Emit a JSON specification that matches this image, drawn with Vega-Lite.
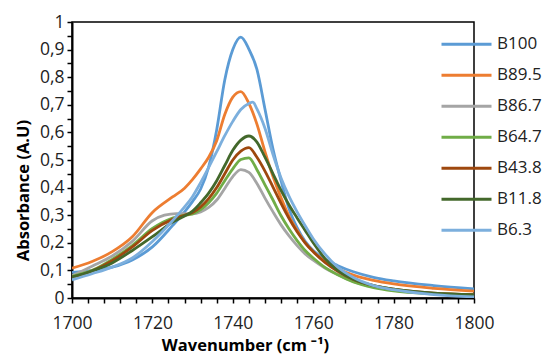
{
  "$schema": "https://vega.github.io/schema/vega-lite/v6.json",
  "width": 402,
  "height": 276,
  "autosize": "none",
  "padding": {"left": 72, "top": 22, "right": 69, "bottom": 56},
  "config": {
    "font": "Open Sans",
    "view": {"stroke": "#000000", "strokeWidth": 1.5},
    "axis": {"grid": false, "domainColor": "#000000", "domainWidth": 2, "tickColor": "#000000", "tickWidth": 1.5, "labelColor": "#222222", "labelFontSize": 17.5, "titleColor": "#000000", "titleFontSize": 16.5, "titleFontWeight": "bold"}
  },
  "data": {
    "values": [
      {"s":"B100","w":1700,"a":0.093},{"s":"B100","w":1705,"a":0.1},{"s":"B100","w":1710,"a":0.112},{"s":"B100","w":1715,"a":0.138},{"s":"B100","w":1720,"a":0.185},{"s":"B100","w":1725,"a":0.262},{"s":"B100","w":1728,"a":0.312},{"s":"B100","w":1730,"a":0.35},{"s":"B100","w":1732,"a":0.395},{"s":"B100","w":1734,"a":0.475},{"s":"B100","w":1736,"a":0.61},{"s":"B100","w":1738,"a":0.79},{"s":"B100","w":1740,"a":0.9},{"s":"B100","w":1742,"a":0.945},{"s":"B100","w":1744,"a":0.902},{"s":"B100","w":1746,"a":0.828},{"s":"B100","w":1748,"a":0.685},{"s":"B100","w":1750,"a":0.54},{"s":"B100","w":1752,"a":0.425},{"s":"B100","w":1754,"a":0.323},{"s":"B100","w":1756,"a":0.255},{"s":"B100","w":1758,"a":0.205},{"s":"B100","w":1760,"a":0.172},{"s":"B100","w":1763,"a":0.14},{"s":"B100","w":1766,"a":0.118},{"s":"B100","w":1770,"a":0.095},{"s":"B100","w":1775,"a":0.075},{"s":"B100","w":1780,"a":0.062},{"s":"B100","w":1790,"a":0.045},{"s":"B100","w":1800,"a":0.033},
      {"s":"B89.5","w":1700,"a":0.108},{"s":"B89.5","w":1705,"a":0.132},{"s":"B89.5","w":1710,"a":0.168},{"s":"B89.5","w":1715,"a":0.222},{"s":"B89.5","w":1720,"a":0.31},{"s":"B89.5","w":1725,"a":0.366},{"s":"B89.5","w":1728,"a":0.398},{"s":"B89.5","w":1730,"a":0.43},{"s":"B89.5","w":1732,"a":0.468},{"s":"B89.5","w":1734,"a":0.51},{"s":"B89.5","w":1736,"a":0.57},{"s":"B89.5","w":1738,"a":0.665},{"s":"B89.5","w":1740,"a":0.728},{"s":"B89.5","w":1742,"a":0.748},{"s":"B89.5","w":1744,"a":0.705},{"s":"B89.5","w":1746,"a":0.63},{"s":"B89.5","w":1748,"a":0.53},{"s":"B89.5","w":1750,"a":0.44},{"s":"B89.5","w":1752,"a":0.363},{"s":"B89.5","w":1754,"a":0.296},{"s":"B89.5","w":1756,"a":0.245},{"s":"B89.5","w":1758,"a":0.2},{"s":"B89.5","w":1760,"a":0.168},{"s":"B89.5","w":1763,"a":0.132},{"s":"B89.5","w":1766,"a":0.107},{"s":"B89.5","w":1770,"a":0.083},{"s":"B89.5","w":1775,"a":0.064},{"s":"B89.5","w":1780,"a":0.051},{"s":"B89.5","w":1790,"a":0.035},{"s":"B89.5","w":1800,"a":0.025},
      {"s":"B86.7","w":1700,"a":0.08},{"s":"B86.7","w":1705,"a":0.115},{"s":"B86.7","w":1710,"a":0.152},{"s":"B86.7","w":1715,"a":0.205},{"s":"B86.7","w":1720,"a":0.28},{"s":"B86.7","w":1723,"a":0.3},{"s":"B86.7","w":1726,"a":0.306},{"s":"B86.7","w":1730,"a":0.305},{"s":"B86.7","w":1732,"a":0.312},{"s":"B86.7","w":1734,"a":0.328},{"s":"B86.7","w":1736,"a":0.355},{"s":"B86.7","w":1738,"a":0.397},{"s":"B86.7","w":1740,"a":0.44},{"s":"B86.7","w":1742,"a":0.465},{"s":"B86.7","w":1744,"a":0.455},{"s":"B86.7","w":1746,"a":0.415},{"s":"B86.7","w":1748,"a":0.362},{"s":"B86.7","w":1750,"a":0.312},{"s":"B86.7","w":1752,"a":0.265},{"s":"B86.7","w":1754,"a":0.225},{"s":"B86.7","w":1756,"a":0.19},{"s":"B86.7","w":1758,"a":0.16},{"s":"B86.7","w":1760,"a":0.137},{"s":"B86.7","w":1763,"a":0.108},{"s":"B86.7","w":1766,"a":0.085},{"s":"B86.7","w":1770,"a":0.06},{"s":"B86.7","w":1775,"a":0.04},{"s":"B86.7","w":1780,"a":0.028},{"s":"B86.7","w":1790,"a":0.016},{"s":"B86.7","w":1800,"a":0.01},
      {"s":"B64.7","w":1700,"a":0.078},{"s":"B64.7","w":1705,"a":0.1},{"s":"B64.7","w":1710,"a":0.14},{"s":"B64.7","w":1715,"a":0.19},{"s":"B64.7","w":1720,"a":0.252},{"s":"B64.7","w":1725,"a":0.29},{"s":"B64.7","w":1728,"a":0.3},{"s":"B64.7","w":1730,"a":0.305},{"s":"B64.7","w":1732,"a":0.32},{"s":"B64.7","w":1734,"a":0.345},{"s":"B64.7","w":1736,"a":0.38},{"s":"B64.7","w":1738,"a":0.425},{"s":"B64.7","w":1740,"a":0.468},{"s":"B64.7","w":1742,"a":0.502},{"s":"B64.7","w":1744,"a":0.508},{"s":"B64.7","w":1746,"a":0.465},{"s":"B64.7","w":1748,"a":0.41},{"s":"B64.7","w":1750,"a":0.355},{"s":"B64.7","w":1752,"a":0.298},{"s":"B64.7","w":1754,"a":0.25},{"s":"B64.7","w":1756,"a":0.208},{"s":"B64.7","w":1758,"a":0.172},{"s":"B64.7","w":1760,"a":0.145},{"s":"B64.7","w":1763,"a":0.11},{"s":"B64.7","w":1766,"a":0.085},{"s":"B64.7","w":1770,"a":0.058},{"s":"B64.7","w":1775,"a":0.038},{"s":"B64.7","w":1780,"a":0.026},{"s":"B64.7","w":1790,"a":0.015},{"s":"B64.7","w":1800,"a":0.01},
      {"s":"B43.8","w":1700,"a":0.075},{"s":"B43.8","w":1705,"a":0.098},{"s":"B43.8","w":1710,"a":0.135},{"s":"B43.8","w":1715,"a":0.185},{"s":"B43.8","w":1720,"a":0.245},{"s":"B43.8","w":1725,"a":0.285},{"s":"B43.8","w":1728,"a":0.3},{"s":"B43.8","w":1730,"a":0.31},{"s":"B43.8","w":1732,"a":0.33},{"s":"B43.8","w":1734,"a":0.36},{"s":"B43.8","w":1736,"a":0.4},{"s":"B43.8","w":1738,"a":0.45},{"s":"B43.8","w":1740,"a":0.5},{"s":"B43.8","w":1742,"a":0.532},{"s":"B43.8","w":1744,"a":0.545},{"s":"B43.8","w":1746,"a":0.51},{"s":"B43.8","w":1748,"a":0.46},{"s":"B43.8","w":1750,"a":0.402},{"s":"B43.8","w":1752,"a":0.343},{"s":"B43.8","w":1754,"a":0.288},{"s":"B43.8","w":1756,"a":0.24},{"s":"B43.8","w":1758,"a":0.2},{"s":"B43.8","w":1760,"a":0.168},{"s":"B43.8","w":1763,"a":0.128},{"s":"B43.8","w":1766,"a":0.098},{"s":"B43.8","w":1770,"a":0.067},{"s":"B43.8","w":1775,"a":0.045},{"s":"B43.8","w":1780,"a":0.032},{"s":"B43.8","w":1790,"a":0.018},{"s":"B43.8","w":1800,"a":0.012},
      {"s":"B11.8","w":1700,"a":0.076},{"s":"B11.8","w":1705,"a":0.098},{"s":"B11.8","w":1710,"a":0.127},{"s":"B11.8","w":1715,"a":0.172},{"s":"B11.8","w":1720,"a":0.222},{"s":"B11.8","w":1725,"a":0.275},{"s":"B11.8","w":1728,"a":0.297},{"s":"B11.8","w":1730,"a":0.315},{"s":"B11.8","w":1732,"a":0.345},{"s":"B11.8","w":1734,"a":0.38},{"s":"B11.8","w":1736,"a":0.425},{"s":"B11.8","w":1738,"a":0.48},{"s":"B11.8","w":1740,"a":0.535},{"s":"B11.8","w":1742,"a":0.572},{"s":"B11.8","w":1744,"a":0.587},{"s":"B11.8","w":1746,"a":0.565},{"s":"B11.8","w":1748,"a":0.51},{"s":"B11.8","w":1750,"a":0.45},{"s":"B11.8","w":1752,"a":0.39},{"s":"B11.8","w":1754,"a":0.337},{"s":"B11.8","w":1756,"a":0.29},{"s":"B11.8","w":1758,"a":0.245},{"s":"B11.8","w":1760,"a":0.2},{"s":"B11.8","w":1763,"a":0.142},{"s":"B11.8","w":1766,"a":0.102},{"s":"B11.8","w":1770,"a":0.068},{"s":"B11.8","w":1775,"a":0.045},{"s":"B11.8","w":1780,"a":0.032},{"s":"B11.8","w":1790,"a":0.018},{"s":"B11.8","w":1800,"a":0.012},
      {"s":"B6.3","w":1700,"a":0.066},{"s":"B6.3","w":1705,"a":0.088},{"s":"B6.3","w":1710,"a":0.112},{"s":"B6.3","w":1715,"a":0.145},{"s":"B6.3","w":1720,"a":0.205},{"s":"B6.3","w":1725,"a":0.28},{"s":"B6.3","w":1728,"a":0.33},{"s":"B6.3","w":1730,"a":0.368},{"s":"B6.3","w":1732,"a":0.418},{"s":"B6.3","w":1734,"a":0.473},{"s":"B6.3","w":1736,"a":0.53},{"s":"B6.3","w":1738,"a":0.588},{"s":"B6.3","w":1740,"a":0.64},{"s":"B6.3","w":1742,"a":0.683},{"s":"B6.3","w":1744,"a":0.705},{"s":"B6.3","w":1745,"a":0.71},{"s":"B6.3","w":1746,"a":0.685},{"s":"B6.3","w":1748,"a":0.615},{"s":"B6.3","w":1750,"a":0.52},{"s":"B6.3","w":1752,"a":0.435},{"s":"B6.3","w":1754,"a":0.368},{"s":"B6.3","w":1756,"a":0.312},{"s":"B6.3","w":1758,"a":0.262},{"s":"B6.3","w":1760,"a":0.215},{"s":"B6.3","w":1763,"a":0.158},{"s":"B6.3","w":1766,"a":0.113},{"s":"B6.3","w":1770,"a":0.074},{"s":"B6.3","w":1775,"a":0.045},{"s":"B6.3","w":1780,"a":0.03},{"s":"B6.3","w":1790,"a":0.012},{"s":"B6.3","w":1800,"a":0.004}
    ]
  },
  "mark": {"type": "line", "strokeWidth": 2.8, "interpolate": "monotone", "clip": true},
  "encoding": {
    "x": {
      "field": "w", "type": "quantitative",
      "scale": {"domain": [1700, 1800], "nice": false, "zero": false},
      "axis": {
        "title": "Wavenumber (cm ⁻¹)",
        "values": [1700,1704,1708,1712,1716,1720,1724,1728,1732,1736,1740,1744,1748,1752,1756,1760,1764,1768,1772,1776,1780,1784,1788,1792,1796,1800],
        "format": "d",
        "labelExpr": "datum.value % 20 === 0 ? datum.label : ''",
        "labelOverlap": false,
        "labelFlush": false,
        "tickSize": 5,
        "labelPadding": 11,
        "titleBaseline": "alphabetic",
        "titleX": 173,
        "titleY": 52
      }
    },
    "y": {
      "field": "a", "type": "quantitative",
      "scale": {"domain": [0, 1], "nice": false},
      "axis": {
        "title": "Absorbance (A.U)",
        "values": [0,0.05,0.1,0.15,0.2,0.25,0.3,0.35,0.4,0.45,0.5,0.55,0.6,0.65,0.7,0.75,0.8,0.85,0.9,0.95,1],
        "labelExpr": "round(datum.value*100) % 10 === 0 ? replace(format(datum.value, '.1~f'), '.', ',') : ''",
        "labelOverlap": false,
        "labelFlush": false,
        "tickSize": 5,
        "labelPadding": 3,
        "titleBaseline": "alphabetic",
        "titleX": -44,
        "titleY": 168
      }
    },
    "color": {
      "field": "s", "type": "nominal",
      "scale": {
        "domain": ["B100","B89.5","B86.7","B64.7","B43.8","B11.8","B6.3"],
        "range": ["#5B9BD5","#ED7D31","#A5A5A5","#70AD47","#9E480E","#43682B","#7CAFDD"]
      },
      "legend": {
        "title": null,
        "orient": "none",
        "legendX": 368,
        "legendY": 7,
        "symbolType": "stroke",
        "symbolSize": 2500,
        "symbolStrokeWidth": 3,
        "labelFontSize": 17,
        "labelColor": "#222222",
        "clipHeight": 30.5,
        "rowPadding": 0,
        "labelOffset": 4
      }
    }
  }
}
